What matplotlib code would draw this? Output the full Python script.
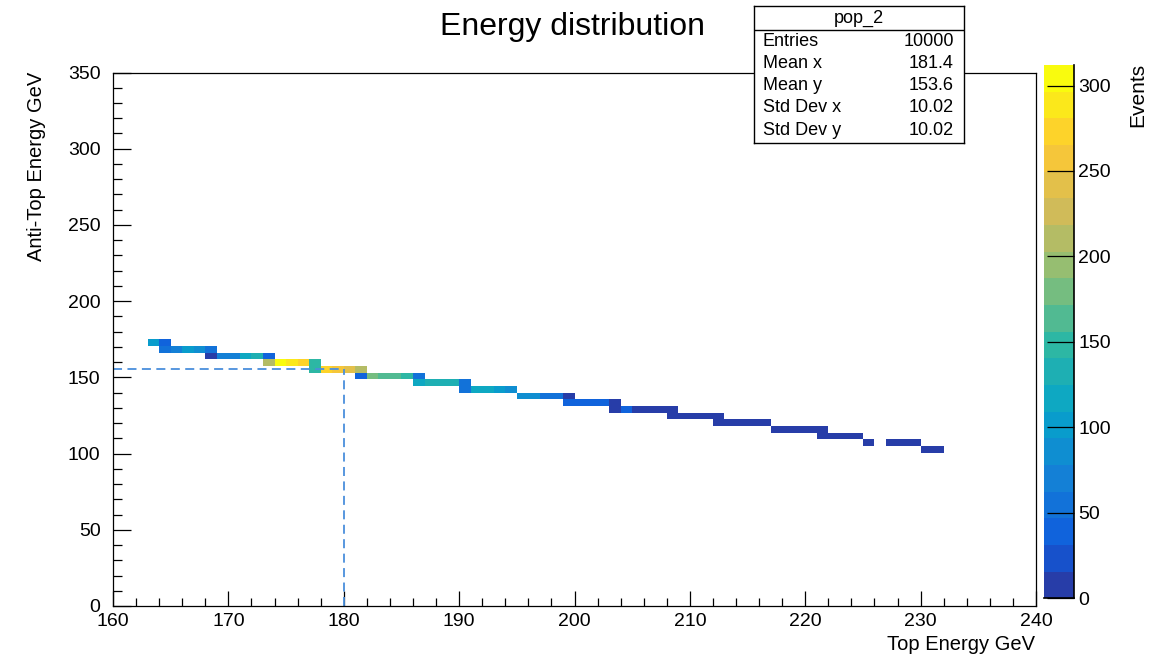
import numpy as np
import matplotlib
matplotlib.use("Agg")
import matplotlib.pyplot as plt
from matplotlib.colors import LinearSegmentedColormap, ListedColormap, BoundaryNorm
from matplotlib.ticker import MultipleLocator

plt.rcParams['font.family'] = ['Liberation Sans', 'DejaVu Sans']

# histogram content, one entry per filled row of y bins
# row_y: anti-top energy (bin centre), row_x0: first filled top-energy bin
row_y = [172.8, 168.4, 164.1, 159.7, 155.3, 150.9, 146.6, 142.2, 137.8,
         133.4, 129.1, 124.7, 120.3, 115.9, 111.6, 107.2, 102.8]
row_x0 = [163, 164, 168, 173, 177, 181, 186, 190, 195,
          199, 203, 208, 212, 217, 221, 225, 230]
row_counts = [
    [95, 45],
    [60, 75, 95, 78, 55],
    [14, 70, 72, 115, 135, 40],
    [210, 305, 290, 272, 150],
    [145, 270, 250, 235, 210],
    [40, 180, 165, 165, 148, 50],
    [112, 130, 130, 130, 60],
    [50, 115, 115, 105, 85],
    [80, 80, 55, 55, 15],
    [38, 38, 38, 38, 12],
    [12, 45, 14, 14, 14, 12],
    [10, 10, 10, 10, 10],
    [8, 8, 8, 8, 8],
    [6, 6, 6, 6, 6],
    [5, 5, 5, 5],
    [3, 0, 3, 3, 3],
    [2, 2],
]

x_edges = np.arange(160, 241, 1)
y_edges = np.linspace(0, 350, 81)
z_max = 312
n_levels = 20

# dashed guide lines
cut_x = 180
cut_y = 155.6

stats_name = "pop_2"
stats_labels = ["Entries", "Mean x", "Mean y", "Std Dev x", "Std Dev y"]
stats_values = ["10000", "181.4", "153.6", "10.02", "10.02"]

# ROOT kBird palette
bird_r = [0.2082, 0.0592, 0.0780, 0.0232, 0.1802, 0.5301, 0.8186, 0.9956, 0.9764]
bird_g = [0.1664, 0.3599, 0.5041, 0.6419, 0.7178, 0.7492, 0.7328, 0.7862, 0.9832]
bird_b = [0.5293, 0.8684, 0.8385, 0.7914, 0.6425, 0.4662, 0.3499, 0.1968, 0.0539]
bird = LinearSegmentedColormap.from_list(
    "bird", list(zip(np.linspace(0, 1, 9), zip(bird_r, bird_g, bird_b))))
cmap = ListedColormap([bird(min((i + 0.99) / n_levels, 1.0)) for i in range(n_levels)])
norm = BoundaryNorm(np.linspace(0, z_max, n_levels + 1), n_levels)

xs, ys, ws = [], [], []
for y, x0, counts in zip(row_y, row_x0, row_counts):
    for i, c in enumerate(counts):
        xs.append(x0 + i + 0.5)
        ys.append(y)
        ws.append(c)

W, H = 1160, 655
fig = plt.figure(figsize=(W / 100, H / 100), dpi=100)


def fx(px):
    return px / W


def fy(py):
    return 1 - py / H


ax = fig.add_axes([fx(113), fy(606), fx(1036) - fx(113), fy(72.5) - fy(606)])
hist = ax.hist2d(xs, ys, bins=[x_edges, y_edges], weights=ws,
                 cmap=cmap, norm=norm, cmin=0.5)

ax.plot([160, cut_x], [cut_y, cut_y], ls=(0, (5, 3)), color="#4a8fdc", lw=1.3)
ax.plot([cut_x, cut_x], [0, cut_y], ls=(0, (5, 3)), color="#4a8fdc", lw=1.3)

ax.set_xlim(160, 240)
ax.set_ylim(0, 350)
ax.xaxis.set_major_locator(MultipleLocator(10))
ax.xaxis.set_minor_locator(MultipleLocator(2))
ax.yaxis.set_major_locator(MultipleLocator(50))
ax.yaxis.set_minor_locator(MultipleLocator(10))
ax.tick_params(axis="both", which="both", direction="in", top=False, right=False,
               labelsize=14, width=0.9)
ax.xaxis.set_tick_params(which="major", length=11)
ax.xaxis.set_tick_params(which="minor", length=5.5)
ax.yaxis.set_tick_params(which="major", length=13)
ax.yaxis.set_tick_params(which="minor", length=6.5)
ax.tick_params(axis="x", pad=5)
ax.tick_params(axis="y", pad=9)
for sp in ax.spines.values():
    sp.set_linewidth(0.9)

fig.text(fx(1035), fy(644), "Top Energy GeV", ha="right", va="center", fontsize=14.5)
fig.text(fx(37), fy(72), "Anti-Top Energy GeV", ha="center", va="top",
         rotation=90, fontsize=14.5)
fig.text(fx(572), fy(27), "Energy distribution", ha="center", va="center", fontsize=23)

# palette
cax = fig.add_axes([fx(1043.5), fy(598.3), fx(1074) - fx(1043.5), fy(65) - fy(598.3)])
cb = fig.colorbar(hist[3], cax=cax, ticks=range(0, 301, 50))
cb.outline.set_visible(False)
cax.minorticks_off()
cax.tick_params(direction="in", length=19.5, width=0.9, labelsize=14, pad=3)
cax.plot([1, 1], [0, 1], transform=cax.transAxes, color="black", lw=1.2, clip_on=False)
cax.plot([0, 1], [0, 0], transform=cax.transAxes, color="black", lw=1.2, clip_on=False)
fig.text(fx(1138), fy(63), "Events", ha="center", va="top", rotation=90, fontsize=15)

# stats box
sax = fig.add_axes([fx(754), fy(143), fx(964) - fx(754), fy(6) - fy(143)])
sax.set_xlim(754, 964)
sax.set_ylim(143, 6)
sax.set_xticks([])
sax.set_yticks([])
sax.set_facecolor("white")
for sp in sax.spines.values():
    sp.set_linewidth(1.0)
sax.plot([754, 964], [30, 30], color="black", lw=1.0)
sax.text(859, 18, stats_name, ha="center", va="center", fontsize=13)
for i, (lab, val) in enumerate(zip(stats_labels, stats_values)):
    yy = 41 + i * 22.3
    sax.text(763, yy, lab, ha="left", va="center", fontsize=13)
    sax.text(954, yy, val, ha="right", va="center", fontsize=13)

fig.savefig("out.png", dpi=100)
